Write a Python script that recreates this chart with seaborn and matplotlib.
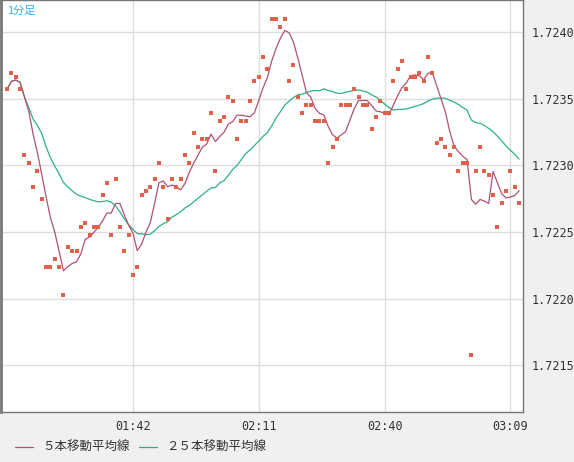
import numpy as np
import pandas as pd
import matplotlib
matplotlib.use("Agg")
import matplotlib.pyplot as plt
import seaborn as sns

# 1-minute prices from 01:13 to 03:11
prices = [
    1.72357, 1.72369, 1.72366, 1.72357, 1.72308, 1.72302, 1.72284, 1.72296, 1.72275, 1.72224,
    1.72224, 1.72230, 1.72224, 1.72203, 1.72239, 1.72236, 1.72236, 1.72254, 1.72257, 1.72248,
    1.72254, 1.72254, 1.72278, 1.72287, 1.72248, 1.72290, 1.72254, 1.72236, 1.72248, 1.72218,
    1.72224, 1.72278, 1.72281, 1.72284, 1.72290, 1.72302, 1.72284, 1.72260, 1.72290, 1.72284,
    1.72290, 1.72308, 1.72302, 1.72324, 1.72314, 1.72320, 1.72320, 1.72339, 1.72296, 1.72333,
    1.72336, 1.72351, 1.72348, 1.72320, 1.72333, 1.72333, 1.72348, 1.72363, 1.72366, 1.72381,
    1.72372, 1.72410, 1.72410, 1.72404, 1.72410, 1.72363, 1.72375, 1.72351, 1.72339, 1.72345,
    1.72345, 1.72333, 1.72333, 1.72333, 1.72302, 1.72314, 1.72320, 1.72345, 1.72345, 1.72345,
    1.72357, 1.72351, 1.72345, 1.72345, 1.72327, 1.72336, 1.72348, 1.72339, 1.72339, 1.72363,
    1.72372, 1.72378, 1.72357, 1.72366, 1.72366, 1.72369, 1.72363, 1.72381, 1.72369, 1.72317,
    1.72320, 1.72314, 1.72308, 1.72314, 1.72296, 1.72302, 1.72302, 1.72158, 1.72296, 1.72314,
    1.72296, 1.72293, 1.72278, 1.72254, 1.72272, 1.72281, 1.72296, 1.72284, 1.72272,
]
tick_pos = [29, 58, 87, 116]
tick_labels = ["01:42", "02:11", "02:40", "03:09"]
y_ticks = [1.7215, 1.7220, 1.7225, 1.7230, 1.7235, 1.7240]

df = pd.DataFrame({"i": np.arange(len(prices)), "price": prices})
df["ma5"] = df["price"].rolling(5, min_periods=1).mean()
df["ma25"] = df["price"].rolling(25, min_periods=1).mean()

sns.set_style("white")
plt.rcParams["font.family"] = ["Noto Sans CJK JP", "DejaVu Sans"]

fig = plt.figure(figsize=(5.74, 4.62), dpi=100, facecolor="#f0f0f0")
ax = fig.add_axes([1 / 574, 50 / 462, 522 / 574, 412 / 462])
ax.set_facecolor("white")

sns.lineplot(data=df, x="i", y="ma25", color="#2db37f", lw=0.9, ax=ax)
sns.lineplot(data=df, x="i", y="ma5", color="#b0507a", lw=0.9, ax=ax)
sns.scatterplot(data=df, x="i", y="price", marker="s", s=6, color="#e0604a", linewidth=0, ax=ax, zorder=3)

ax.set_xlim(-1.4, 118.9)
ax.set_ylim(1.72115, 1.72424)
ax.set_xticks(tick_pos)
ax.set_xticklabels(tick_labels, family="DejaVu Sans Mono", fontsize=8.5)
ax.set_yticks(y_ticks)
ax.set_yticklabels([f"{v:.4f}" for v in y_ticks], family="DejaVu Sans Mono", fontsize=8.5)
ax.yaxis.tick_right()
ax.tick_params(axis="both", length=0, pad=6, colors="#333333")
ax.grid(True, color="#dddddd", lw=1)
ax.set_xlabel("")
ax.set_ylabel("")
for s in ax.spines.values():
    s.set_color("#777777")
    s.set_linewidth(1)
ax.spines["left"].set_linewidth(2)

ax.text(0.012, 0.985, "1分足", transform=ax.transAxes, ha="left", va="top",
        color="#33aaee", fontsize=8)

# legend below the plot
fig.add_artist(plt.Line2D([15 / 574, 33 / 574], [15 / 462, 15 / 462],
                          color="#b0507a", lw=0.9, transform=fig.transFigure))
fig.text(42 / 574, 15 / 462, "５本移動平均線", va="center", fontsize=9, color="#333333")
fig.add_artist(plt.Line2D([139 / 574, 157 / 574], [15 / 462, 15 / 462],
                          color="#2db37f", lw=0.9, transform=fig.transFigure))
fig.text(166 / 574, 15 / 462, "２５本移動平均線", va="center", fontsize=9, color="#333333")

fig.savefig("out.png", dpi=100, facecolor=fig.get_facecolor())
